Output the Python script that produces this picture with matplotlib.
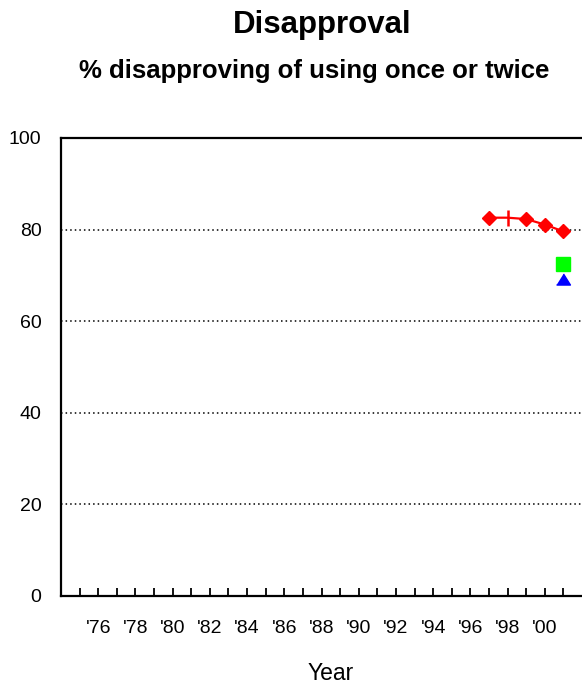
import numpy as np
import matplotlib
matplotlib.use("Agg")
import matplotlib.pyplot as plt

plt.rcParams['font.family'] = ['Liberation Sans', 'DejaVu Sans']

# data
red_years = [1997, 1998, 1999, 2000, 2001]
red_vals = [82.6, 82.6, 82.3, 81.1, 79.6]
red_markers = ['D', '|', 'D', 'D', 'D']

green_years = [2001]
green_vals = [72.5]

blue_years = [2001]
blue_vals = [69.3]

tick_years = list(range(1975, 2002))
label_years = list(range(1976, 2001, 2))
y_ticks = [0, 20, 40, 60, 80, 100]

W, H = 582, 687
fig = plt.figure(figsize=(W / 100, H / 100), dpi=100)
ax = fig.add_axes([61 / W, 91 / H, 521 / W, 458 / H])

# gridlines
for v in y_ticks[1:-1]:
    ax.axhline(v, color='black', lw=1.1, ls=(0, (1, 2)), zorder=1)

ax.plot(red_years, red_vals, color='#ff0000', lw=1.6, zorder=3)
for x, y, m in zip(red_years, red_vals, red_markers):
    if m == 'D':
        ax.plot(x, y, marker='D', ms=7.5, color='#ff0000', zorder=4)
    else:
        ax.plot(x, y, marker='|', ms=11, mew=1.8, color='#ff0000', zorder=4)

ax.plot(green_years, green_vals, ls='none', marker='s', ms=10, color='#00ff00', zorder=4)
tri = [(-1, -0.8), (1, -0.8), (0, 0.8)]
ax.plot(blue_years, blue_vals, ls='none', marker=tri, ms=10, color='#0000ff', zorder=4)

ax.set_xlim(1974, 2002)
ax.set_ylim(0, 100)

ax.set_xticks(tick_years)
ax.set_xticklabels(["'%02d" % (y % 100) if y in label_years else '' for y in tick_years])
ax.set_yticks(y_ticks)
ax.tick_params(axis='x', direction='in', length=6, width=1.3, pad=17, labelsize=14)
ax.tick_params(axis='y', length=0, pad=14, labelsize=14)

for s in ['left', 'bottom', 'top']:
    ax.spines[s].set_linewidth(1.6)
ax.spines['right'].set_visible(False)

fig.text(322 / W, 1 - 25 / H, 'Disapproval', ha='center', va='center',
         fontsize=22.5, fontweight='bold')
fig.text(314 / W, 1 - 71 / H, '% disapproving of using once or twice', ha='center',
         va='center', fontsize=18.5, fontweight='bold')
fig.text(331 / W, 1 - 673 / H, 'Year', ha='center', va='center', fontsize=16.5)

fig.savefig('out.png', dpi=100)
